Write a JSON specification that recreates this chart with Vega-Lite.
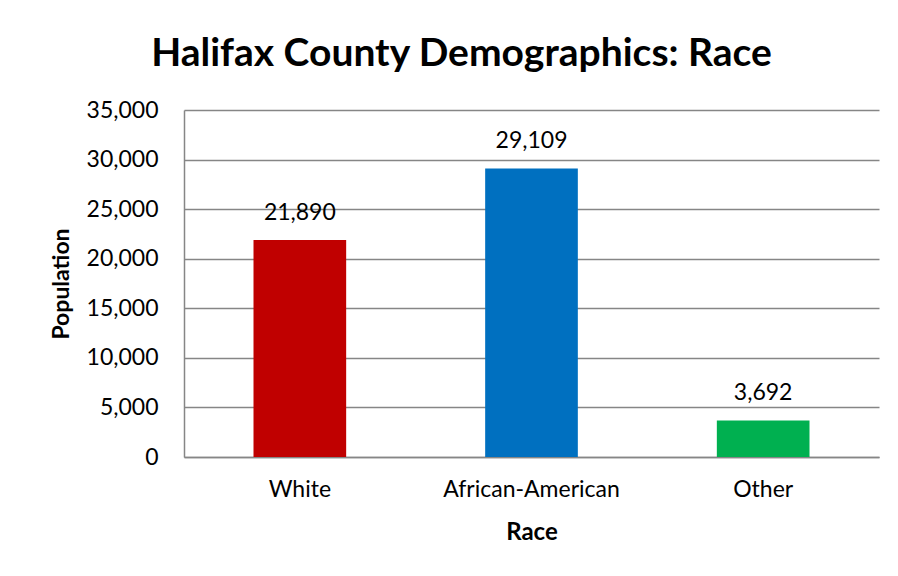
{
  "$schema": "https://vega.github.io/schema/vega-lite/v6.json",
  "width": 695,
  "height": 347,
  "autosize": {"type": "none"},
  "padding": {"left": 184, "top": 110, "right": 19, "bottom": 119},
  "background": "white",
  "title": {
    "text": "Halifax County Demographics: Race",
    "font": "Lato",
    "fontSize": 39,
    "fontWeight": "bold",
    "color": "#000000",
    "anchor": "middle",
    "frame": "group",
    "dx": -70,
    "baseline": "alphabetic",
    "offset": -6
  },
  "data": {
    "values": [
      {"race": "White", "population": 21890},
      {"race": "African-American", "population": 29109},
      {"race": "Other", "population": 3692}
    ]
  },
  "encoding": {
    "x": {
      "field": "race",
      "type": "nominal",
      "sort": null,
      "scale": {"paddingInner": 0.6, "paddingOuter": 0.3},
      "axis": {
        "title": "Race",
        "labelAngle": 0,
        "labelFont": "Lato",
        "labelFontSize": 23,
        "labelColor": "#000000",
        "labelPadding": 21,
        "ticks": false,
        "domainColor": "#868686",
        "domainWidth": 1.5,
        "titleFont": "Lato",
        "titleFontSize": 24,
        "titleFontWeight": "bold",
        "titleColor": "#000000",
        "titlePadding": 19
      }
    },
    "y": {
      "field": "population",
      "type": "quantitative",
      "scale": {"domain": [0, 35000]},
      "axis": {
        "title": "Population",
        "values": [0, 5000, 10000, 15000, 20000, 25000, 30000, 35000],
        "format": ",.0f",
        "labelFont": "Lato",
        "labelFontSize": 23,
        "labelColor": "#000000",
        "labelPadding": 26,
        "ticks": false,
        "domainColor": "#868686",
        "domainWidth": 1.5,
        "gridColor": "#868686",
        "gridWidth": 1.5,
        "titleFont": "Lato",
        "titleFontSize": 23,
        "titleFontWeight": "bold",
        "titleColor": "#000000",
        "titlePadding": 13
      }
    }
  },
  "layer": [
    {
      "mark": {"type": "bar"},
      "encoding": {
        "color": {
          "field": "race",
          "type": "nominal",
          "scale": {
            "domain": ["White", "African-American", "Other"],
            "range": ["#C00000", "#0070C0", "#00B050"]
          },
          "legend": null
        }
      }
    },
    {
      "mark": {
        "type": "text",
        "font": "Lato",
        "fontSize": 23,
        "color": "#000000",
        "baseline": "alphabetic",
        "dy": -20
      },
      "encoding": {
        "text": {"field": "population", "type": "quantitative", "format": ",.0f"}
      }
    }
  ],
  "config": {
    "view": {"stroke": null}
  }
}
